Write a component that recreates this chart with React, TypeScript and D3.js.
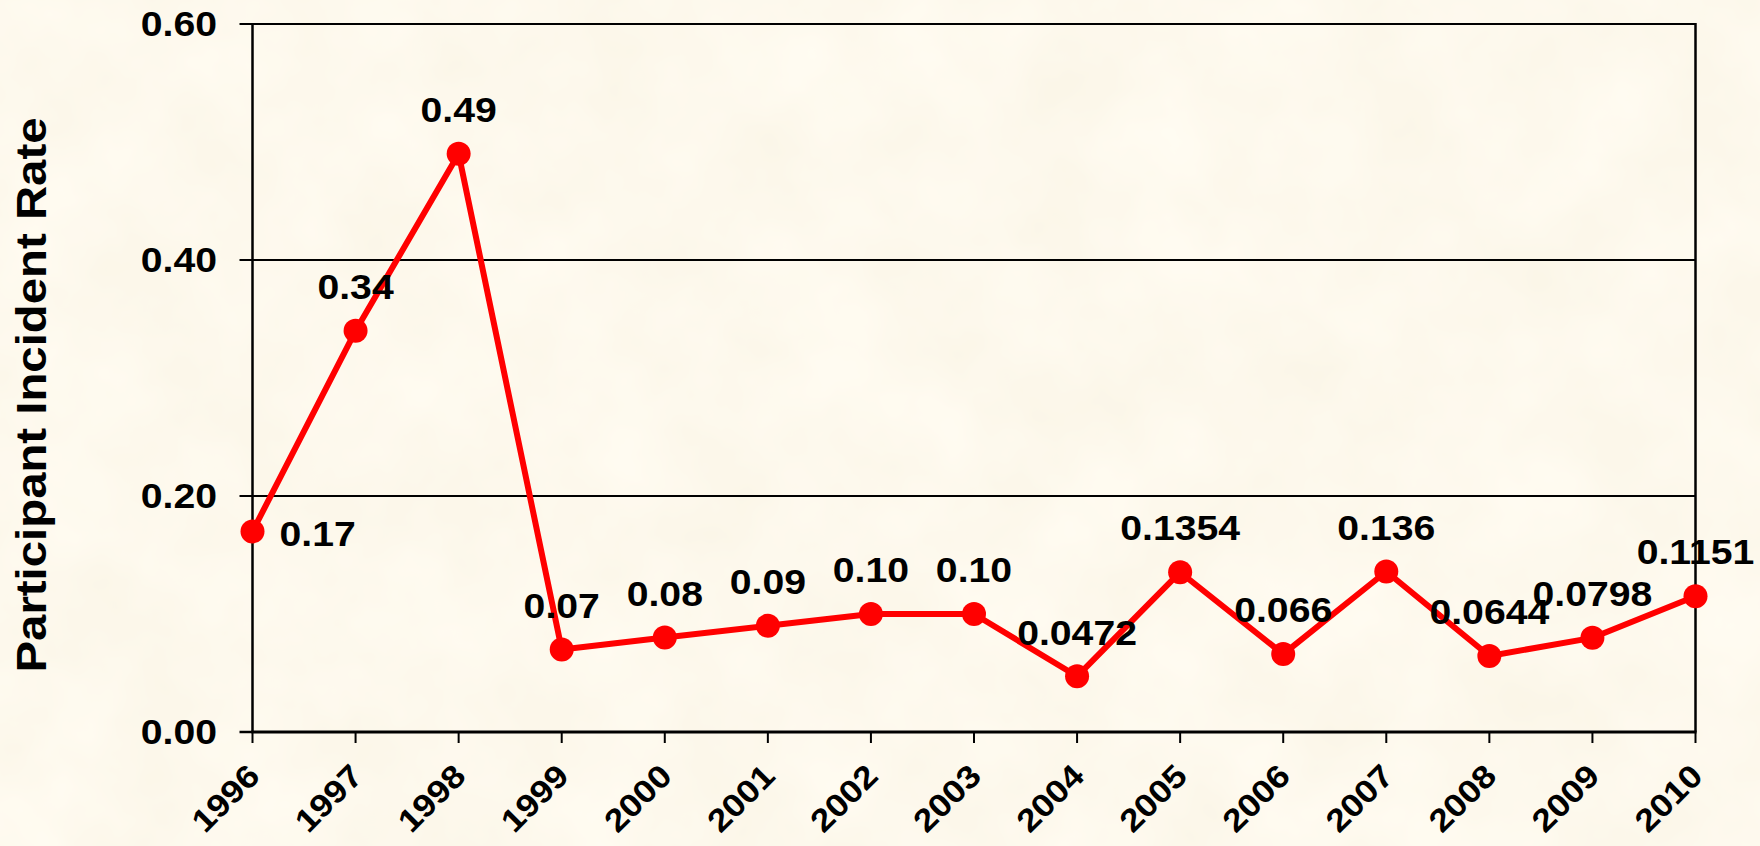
import React from "react";
import * as d3 from "d3";

const years = ["1996","1997","1998","1999","2000","2001","2002","2003","2004","2005","2006","2007","2008","2009","2010"];
const rates = [0.17, 0.34, 0.49, 0.07, 0.08, 0.09, 0.10, 0.10, 0.0472, 0.1354, 0.066, 0.136, 0.0644, 0.0798, 0.1151];
const labels = ["0.17","0.34","0.49","0.07","0.08","0.09","0.10","0.10","0.0472","0.1354","0.066","0.136","0.0644","0.0798","0.1151"];
const yTicks = [0, 0.2, 0.4, 0.6];
const yTickLabels = ["0.00", "0.20", "0.40", "0.60"];
const yTitle = "Participant Incident Rate";

const W = 1760, H = 846;
const FONT = "'Liberation Sans', Arial, sans-serif";
const SX = 1.12;

export default function App() {
  const x = d3.scalePoint<string>().domain(years).range([252.5, 1695.5]);
  const y = d3.scaleLinear().domain([0, 0.6]).range([732, 24]);
  const line = d3.line<number>().x((_, i) => x(years[i])!).y(d => y(d));

  return (
    <svg width={W} height={H} style={{ position: "absolute", left: 0, top: 0 }} xmlns="http://www.w3.org/2000/svg">
      <defs>
        <filter id="parch" x="0" y="0" width="100%" height="100%">
          <feTurbulence type="fractalNoise" baseFrequency="0.009" numOctaves="4" seed="7" result="n" />
          <feColorMatrix in="n" type="matrix"
            values="0.06 0 0 0 0.955  0.07 0 0 0 0.91  0.11 0 0 0 0.79  0 0 0 0 1" />
        </filter>
      </defs>
      <rect x={0} y={0} width={W} height={H} fill="#FCF1D9" />
      <rect x={0} y={0} width={W} height={H} filter="url(#parch)" />

      {/* gridlines */}
      {yTicks.filter(t => t > 0).map(t => (
        <line key={"g" + t} x1={x(years[0])! - 13} x2={x(years[years.length - 1])!} y1={y(t)} y2={y(t)} stroke="#000" strokeWidth={2} />
      ))}
      {/* y axis */}
      <line x1={x(years[0])!} x2={x(years[0])!} y1={y(0.6)} y2={y(0) + 1} stroke="#000" strokeWidth={2.5} />
      <line x1={x(years[0])! - 13} x2={x(years[0])!} y1={y(0)} y2={y(0)} stroke="#000" strokeWidth={2.5} />
      {/* right border */}
      <line x1={x(years[years.length - 1])!} x2={x(years[years.length - 1])!} y1={y(0.6) - 1} y2={y(0)} stroke="#000" strokeWidth={2.5} />
      {/* x axis */}
      <line x1={x(years[0])! - 1} x2={x(years[years.length - 1])! + 1} y1={y(0)} y2={y(0)} stroke="#000" strokeWidth={3} />
      {years.map(yr => (
        <line key={"t" + yr} x1={x(yr)} x2={x(yr)} y1={y(0)} y2={y(0) + 11} stroke="#000" strokeWidth={2} />
      ))}

      {/* y tick labels */}
      {yTicks.map((t, i) => (
        <text key={"yl" + t} transform={`translate(217,${y(t)}) scale(${SX},1)`} textAnchor="end" dominantBaseline="central"
          fontFamily={FONT} fontWeight="bold" fontSize={35} fill="#000">{yTickLabels[i]}</text>
      ))}

      {/* x tick labels */}
      {years.map(yr => (
        <text key={"xl" + yr} transform={`translate(${x(yr)! + 1},${y(0) + 38}) rotate(-45) scale(${SX},1)`} textAnchor="end" dominantBaseline="central"
          fontFamily={FONT} fontWeight="bold" fontSize={32} fill="#000">{yr}</text>
      ))}

      {/* y title */}
      <text transform={`translate(46,395) rotate(-90)`} textAnchor="middle"
        fontFamily={FONT} fontWeight="bold" fontSize={42} textLength={555} lengthAdjust="spacingAndGlyphs" fill="#000">{yTitle}</text>

      {/* series line */}
      <path d={line(rates)!} fill="none" stroke="#FF0000" strokeWidth={6} strokeLinejoin="round" />
      {rates.map((v, i) => (
        <circle key={"c" + i} cx={x(years[i])} cy={y(v)} r={12} fill="#FF0000" />
      ))}

      {/* data labels */}
      {rates.map((v, i) => {
        const px = x(years[i])!;
        const py = y(v);
        const right = i === 0;
        return (
          <text key={"dl" + i}
            transform={right ? `translate(${px + 27},${py + 2}) scale(${SX},1)` : `translate(${px},${py - 44}) scale(${SX},1)`}
            textAnchor={right ? "start" : "middle"} dominantBaseline="central"
            fontFamily={FONT} fontWeight="bold" fontSize={35} fill="#000">{labels[i]}</text>
        );
      })}
    </svg>
  );
}
